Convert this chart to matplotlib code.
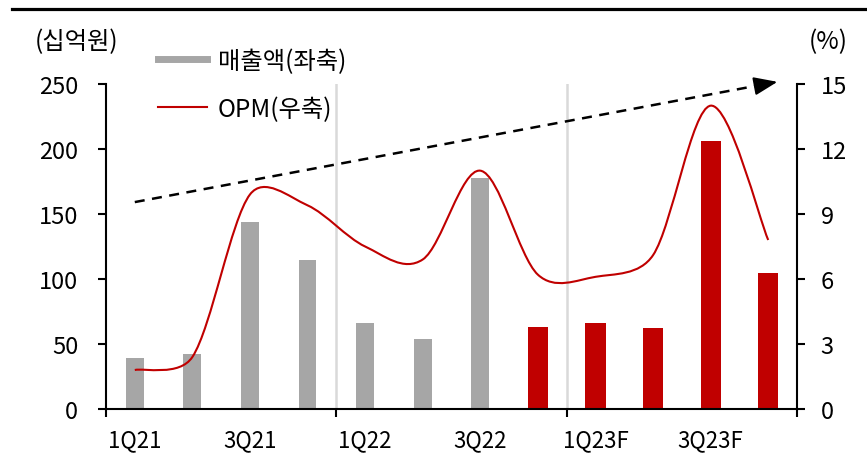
import numpy as np
import matplotlib.pyplot as plt
from matplotlib.path import Path
from matplotlib.patches import PathPatch
from matplotlib.lines import Line2D

plt.rcParams['font.family'] = ['Noto Sans CJK KR', 'DejaVu Sans']
plt.rcParams['font.size'] = 16

quarters = ['1Q21', '2Q21', '3Q21', '4Q21', '1Q22', '2Q22', '3Q22', '4Q22',
            '1Q23F', '2Q23F', '3Q23F', '4Q23F']
sales = [39, 42, 144, 115, 66, 54, 178, 63, 66, 62, 206, 105]
opm = [1.8, 2.4, 9.9, 9.4, 7.5, 6.9, 11.0, 6.2, 6.1, 7.1, 14.0, 7.8]
is_forecast = [False] * 7 + [True] * 5
trend_start = (0, 9.55)
trend_end = (11.16, 15.1)

GRAY = '#A6A6A6'
RED = '#C00000'

fig = plt.figure(figsize=(8.67, 4.6), dpi=100)
ax = fig.add_axes([106/867, 50/460, 691/867, 325/460])
ax2 = ax.twinx()

x = np.arange(len(quarters))

# bars
for i in range(len(x)):
    c = RED if is_forecast[i] else GRAY
    w = 0.35 if is_forecast[i] else 0.31
    ax.bar(x[i], sales[i], width=w, color=c, zorder=2)

# separators between years
for xv in [3.5, 7.5]:
    ax.axvline(xv, ymin=0, ymax=1, color='#D9D9D9', lw=1.8, zorder=1)

ax.set_xlim(-0.5, 11.5)
ax.set_ylim(0, 250)
ax.set_yticks(range(0, 251, 50))
ax2.set_ylim(0, 15)
ax2.set_yticks(range(0, 16, 3))

# smooth OPM line: catmull-rom bezier, control arm capped relative to segment length (pixels)
sx_px, sy_px = 57.6, 21.67
P = np.column_stack([x * sx_px, np.array(opm) * sy_px])
n = len(P)
verts = [P[0]]
codes = [Path.MOVETO]
for i in range(n - 1):
    p0 = P[max(i - 1, 0)]
    p1 = P[i]
    p2 = P[i + 1]
    p3 = P[min(i + 2, n - 1)]
    cap = 0.4 * np.linalg.norm(p2 - p1)
    t1 = (p2 - p0) / 6
    t2 = (p3 - p1) / 6
    if np.linalg.norm(t1) > cap:
        t1 = t1 * cap / np.linalg.norm(t1)
    if np.linalg.norm(t2) > cap:
        t2 = t2 * cap / np.linalg.norm(t2)
    verts += [p1 + t1, p2 - t2, p2]
    codes += [Path.CURVE4] * 3
verts = np.array(verts) / [sx_px, sy_px]
ax2.add_patch(PathPatch(Path(verts, codes), fill=False, edgecolor=RED, lw=1.5, zorder=3))

# dashed trend arrow
sx, sy = trend_start
ex, ey = trend_end
fx = sx + (ex - sx) * 0.97
fy = sy + (ey - sy) * 0.97
ax2.plot([sx, fx], [sy, fy], color='black', lw=1.8, ls=(0, (4, 3)), clip_on=False, zorder=4)
ax2.annotate('', xy=(ex, ey), xytext=(fx, fy),
             arrowprops=dict(arrowstyle='-|>,head_length=0.9,head_width=0.35',
                             color='black', lw=1.5, shrinkA=0, shrinkB=0),
             annotation_clip=False, zorder=4)

# spines / ticks
for a in (ax, ax2):
    a.spines['top'].set_visible(False)
    for s in ['left', 'right', 'bottom']:
        a.spines[s].set_linewidth(1.5)
ax2.spines['left'].set_visible(False)
ax2.spines['bottom'].set_visible(False)
ax.spines['right'].set_visible(False)

ax.tick_params(axis='y', direction='out', length=6, width=1.5, pad=14, labelsize=17)
ax2.tick_params(axis='y', direction='out', length=6, width=1.5, pad=11, labelsize=17)

ax.set_xticks([-0.5, 3.5, 7.5, 11.5])
ax.set_xticklabels([])
ax.set_xticks(x[::2], minor=True)
ax.set_xticklabels(quarters[::2], minor=True)
ax.tick_params(axis='x', which='major', direction='out', length=6, width=1.5)
ax.tick_params(axis='x', which='minor', length=0, pad=14)

# units
fig.text(35/867, 1 - 42/460, '(십억원)', fontsize=17.5, va='center', ha='left')
fig.text(828/867, 1 - 42/460, '(%)', fontsize=17.5, va='center', ha='center')

# legend
handles = [Line2D([], [], color=GRAY, lw=5),
           Line2D([], [], color=RED, lw=1.5)]
fig.legend(handles, ['매출액(좌축)', 'OPM(우축)'], loc='upper left',
           bbox_to_anchor=(158/867, 1 - 49/460), frameon=False,
           borderpad=0, borderaxespad=0, handlelength=2.0, handletextpad=0.45,
           labelspacing=0.9, fontsize=17.5)

# top rule
fig.add_artist(Line2D([12/867, 1], [1 - 9.5/460, 1 - 9.5/460], color='black', lw=2.3))

fig.savefig('out.png', dpi=100)
